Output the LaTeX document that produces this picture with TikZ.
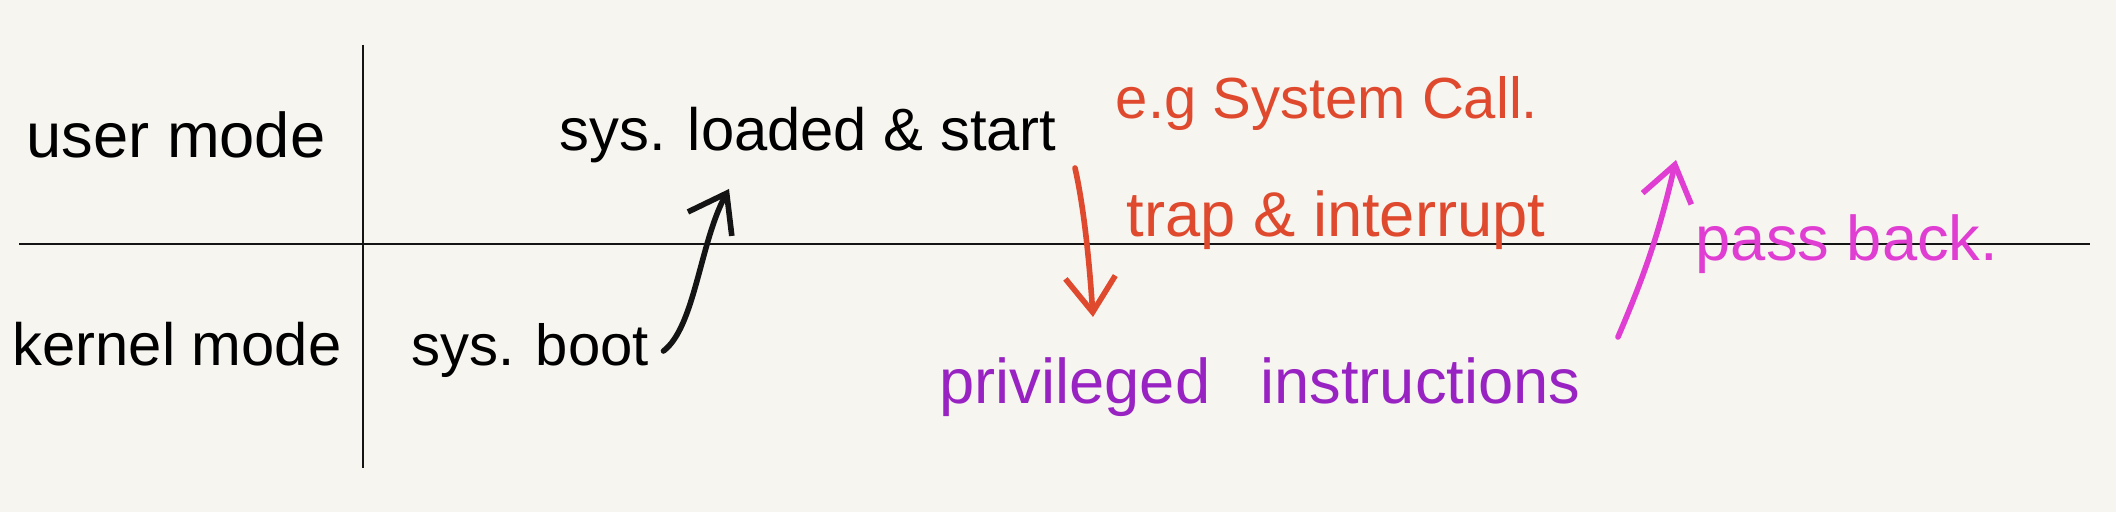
\documentclass[tikz,border=0pt]{standalone}
\usepackage{fontspec}
\setmainfont{Liberation Sans}
\usetikzlibrary{arrows.meta,positioning}
\definecolor{paper}{HTML}{F7F5F0}
\definecolor{ink}{HTML}{141414}
\definecolor{trapred}{HTML}{DF4A2E}
\definecolor{privpurple}{HTML}{9822C2}
\definecolor{passpink}{HTML}{E03ED2}
\tikzset{
  hand/.style={font=\fontsize{18pt}{20pt}\selectfont, inner sep=2pt},
  rule/.style={draw=ink, line width=0.7pt},
  pen/.style={line width=1.6pt, line cap=round, -{Straight Barb[length=3.5mm,width=5mm]}},
}

\begin{document}
\begin{tikzpicture}
\fill[paper] (0,0) rectangle (21.16,5.12);
\coordinate (ruleL) at (0.19,2.68);
\coordinate (ruleR) at (20.9,2.68);
\coordinate (colT) at (3.63,4.67);
\coordinate (colB) at (3.63,0.44);
\draw[rule] (ruleL) -- (ruleR);
\draw[rule] (colT) -- (colB);
\node[hand] (user) at (1.76,3.77) {user mode};
\node[hand, font=\fontsize{17pt}{19pt}\selectfont] (kernel) at (1.77,1.68) {kernel mode};
\node[hand, font=\fontsize{17pt}{19pt}\selectfont] (loaded) at (8.08,3.77) {sys. loaded \& start};
\node[hand, font=\fontsize{16.5pt}{19pt}\selectfont] (boot) at (5.30,1.61) {sys. boot};
\node[hand, text=trapred, font=\fontsize{16.5pt}{19pt}\selectfont] (eg) at (13.27,4.08) {e.g System Call.};
\node[hand, text=trapred] (trap) at (13.36,2.92) {trap \& interrupt};
\node[hand, text=privpurple] (priv) at (12.6,1.25) {privileged\hspace{0.5cm}instructions};
\node[hand, text=passpink] (pass) at (18.47,2.68) {pass back.};
\coordinate (bootT) at (7.29,3.23);
\coordinate (trapT) at (10.75,3.44);
\coordinate (trapB) at (10.93,1.95);
\coordinate (passB) at (16.18,1.75);
\coordinate (passT) at (16.76,3.52);
\draw[pen, ink] ([xshift=2pt]boot.east) .. controls (6.95,1.85) and (7.0,2.7) .. (bootT);
\draw[pen, trapred] (trapT) .. controls (10.85,3.0) and (10.9,2.4) .. (trapB);
\draw[pen, passpink] (passB) to[bend right=5] (passT);
\end{tikzpicture}
\end{document}
